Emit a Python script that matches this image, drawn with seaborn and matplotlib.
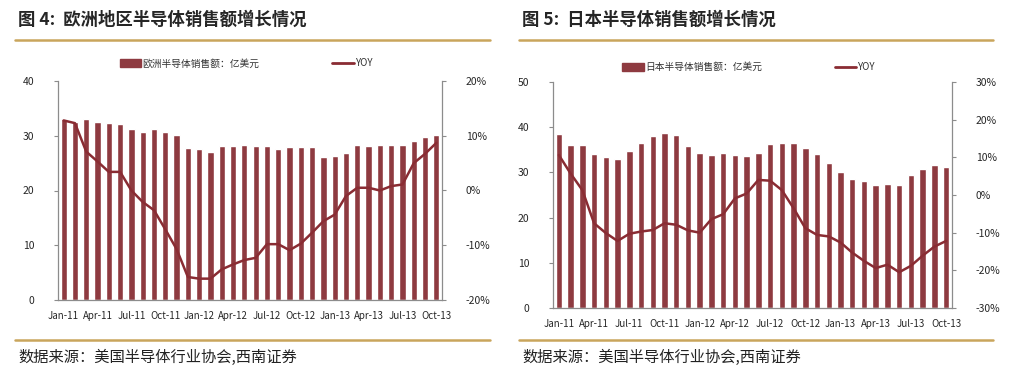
import numpy as np
import pandas as pd
import matplotlib
matplotlib.use("Agg")
import matplotlib.pyplot as plt
import seaborn as sns
from matplotlib.lines import Line2D
from matplotlib.patches import Patch
from matplotlib.ticker import FuncFormatter

sns.set_style("white")
plt.rcParams["font.family"] = ["Noto Sans CJK SC", "DejaVu Sans"]

# data, Jan-11 .. Oct-13
months = list(pd.date_range("2011-01-01", periods=34, freq="MS").strftime("%b-%y"))

eu_sales = [33.0, 32.6, 33.1, 32.6, 32.4, 32.1, 31.3, 30.7, 31.3, 30.7, 30.2, 27.7,
            27.5, 27.1, 28.2, 28.1, 28.4, 28.1, 28.1, 27.6, 27.9, 27.9, 27.9, 26.2,
            26.3, 26.8, 28.4, 28.2, 28.4, 28.4, 28.4, 29.0, 29.8, 30.2]
eu_yoy = [12.8, 12.3, 7.1, 5.3, 3.4, 3.4, 0.0, -2.1, -3.6, -7.1, -10.7, -15.8,
          -16.1, -16.1, -14.4, -13.5, -12.7, -12.3, -9.8, -9.8, -10.9, -9.7, -7.7, -5.6,
          -4.4, -1.0, 0.5, 0.5, 0.0, 0.8, 1.1, 5.0, 6.7, 8.7]

jp_sales = [38.5, 36.0, 36.0, 34.1, 33.3, 33.0, 34.8, 36.6, 38.0, 38.8, 38.3, 35.9,
            34.4, 33.9, 34.2, 33.9, 33.6, 34.2, 36.2, 36.4, 36.4, 35.4, 34.1, 32.0,
            30.0, 28.5, 28.0, 27.3, 27.4, 27.3, 29.4, 30.7, 31.6, 31.1]
jp_yoy = [10.6, 5.7, 1.3, -7.5, -10.1, -12.2, -10.3, -9.7, -9.3, -7.5, -7.9, -9.4,
          -10.0, -6.4, -5.1, -0.9, 0.4, 4.0, 3.8, 1.3, -3.5, -8.8, -10.6, -11.0,
          -12.6, -15.3, -17.5, -19.4, -18.5, -20.5, -18.8, -16.1, -13.7, -12.2]

BAR = "#8E3A40"
LINE = "#8A2C33"
GOLD = "#C9A55C"
AXC = "#8C8C8C"
W, H = 1019, 373

fig = plt.figure(figsize=(W / 100, H / 100), dpi=100)


def px(x0, y0, x1, y1):
    return [x0 / W, 1 - y1 / H, (x1 - x0) / W, (y1 - y0) / H]


def panel(rect, sales, yoy, ylim, ylim2, yticks, yticks2, bar_label, leg_y):
    ax = fig.add_axes(rect)
    df = pd.DataFrame({"month": months, "sales": sales, "yoy": yoy})
    sns.barplot(data=df, x="month", y="sales", color=BAR, saturation=1,
                width=0.55, ax=ax)
    ax2 = ax.twinx()
    sns.lineplot(x=np.arange(len(months)), y=df["yoy"], color=LINE, lw=1.8, ax=ax2)

    ax.set_xlim(-0.5, len(months) - 0.5)
    ax.set_ylim(*ylim)
    ax.set_yticks(yticks)
    ax2.set_ylim(*ylim2)
    ax2.set_yticks(yticks2)
    ax2.yaxis.set_major_formatter(FuncFormatter(lambda v, p: f"{v:.0f}%"))

    ax.set_xticks(range(0, len(months), 3))
    ax.set_xticklabels(months[::3])
    ax.set_xticks(np.arange(2.5, len(months) - 1, 3), minor=True)
    ax.tick_params(axis="x", which="major", length=0, labelsize=7, pad=8)
    ax.tick_params(axis="x", which="minor", direction="in", length=3, color=AXC)
    ax.tick_params(axis="y", length=3, color=AXC, labelsize=7.5, pad=14, direction="out")
    ax2.tick_params(axis="y", length=3, color=AXC, labelsize=7.5, pad=14, direction="out")
    ax.set_xlabel("")
    ax.set_ylabel("")
    ax2.set_ylabel("")
    for a in (ax, ax2):
        a.spines["top"].set_visible(False)
        for s in ("left", "right", "bottom"):
            a.spines[s].set_color(AXC)
            a.spines[s].set_linewidth(0.9)
    ax.spines["right"].set_visible(False)
    ax2.spines["left"].set_visible(False)
    ax2.spines["bottom"].set_visible(False)
    ax.grid(False)
    ax2.grid(False)

    handles = [Patch(color=BAR), Line2D([0], [0], color=LINE, lw=2)]
    leg = ax.legend(handles, [bar_label, "YOY"], ncol=2, frameon=False, loc="center",
                    bbox_to_anchor=(0.49, leg_y), fontsize=7, handlelength=2.2,
                    handleheight=0.8, handletextpad=0.1, columnspacing=7.5)
    for t in leg.get_texts():
        t.set_color("#333333")
    return ax


panel(px(58, 81, 442, 300), eu_sales, eu_yoy, (0, 40), (-20, 20),
      [0, 10, 20, 30, 40], [-20, -10, 0, 10, 20], "欧洲半导体销售额：亿美元", 1.08)
panel(px(553, 82, 952, 308), jp_sales, jp_yoy, (0, 50), (-30, 30),
      [0, 10, 20, 30, 40, 50], [-30, -20, -10, 0, 10, 20, 30],
      "日本半导体销售额：亿美元", 1.065)

# titles, rules and source notes
for x0, x1, title in [(15, 490, "图 4:  欧洲地区半导体销售额增长情况"),
                      (519, 993, "图 5:  日本半导体销售额增长情况")]:
    fig.text((x0 + 3) / W, 1 - 20 / H, title, fontsize=12.5, fontweight="bold",
             va="center", ha="left")
    for y in (40, 340):
        fig.add_artist(Line2D([x0 / W, x1 / W], [1 - y / H, 1 - y / H],
                              color=GOLD, lw=1.8))
    fig.text((x0 + 3) / W, 1 - 357 / H, "数据来源：美国半导体行业协会,西南证券",
             fontsize=11, va="center", ha="left", color="#222222")

fig.savefig("out.png", dpi=100)
